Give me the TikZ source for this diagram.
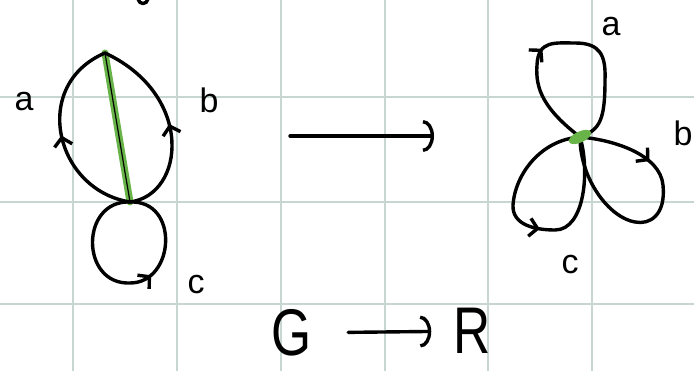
\documentclass[tikz,border=0pt]{standalone}
\usepackage{fontspec}
\setmainfont{Liberation Sans}
\usetikzlibrary{arrows.meta, decorations.markings, shapes.geometric, positioning}
\definecolor{GridGrey}{RGB}{200,214,210}
\definecolor{MarkerGreen}{RGB}{104,180,72}

\begin{document}
\begin{tikzpicture}[x=1pt, y=-1pt, line cap=round, line join=round]
    \tikzset{
        gridline/.style={GridGrey, line width=1.3pt},
        edge/.style={black, line width=3.4pt},
        greenedge/.style={MarkerGreen, line width=7pt},
        midarrow/.style={postaction={decorate}, decoration={markings,
            mark=at position #1 with {\arrow{Straight Barb[length=8pt, width=18pt]}}}},
        vlabel/.style={font=\fontsize{34}{36}\selectfont, inner sep=0pt},
        bigletter/.style={font=\fontsize{66}{70}\selectfont, inner sep=0pt, xscale=0.78},
        mapsto/.style={black, line width=3.4pt, -{Arc Barb[length=11pt, width=32pt]}}
    }
    \useasboundingbox (0,0) rectangle (694,371);
    % grid paper
    \foreach \gx in {73,177,281,385,488,592}
        \draw[gridline] (\gx,0) -- (\gx,371);
    \foreach \gy in {97,202,304}
        \draw[gridline] (0,\gy) -- (694,\gy);
    \draw[edge] (138,-1) .. controls (139,5) and (147,5) .. (148,-1);

    % graph G
    \coordinate (ltop) at (105,53);
    \coordinate (lbot) at (130,202);
    \draw[greenedge] (ltop) -- (lbot);
    \draw[black, line width=1.2pt] (ltop) -- (lbot);
    \draw[edge, midarrow=0.5] (lbot) .. controls (55,190) and (30,85) .. (ltop);
    \draw[edge, midarrow=0.5] (lbot) .. controls (185,195) and (195,95) .. (ltop);
    \draw[edge, midarrow=0.6] (lbot) .. controls (80,200) and (80,285) .. (130,283)
        .. controls (175,283) and (180,200) .. (lbot);
    \node[vlabel] (la) at (24,102) {a};
    \node[vlabel] (lb) at (209,100) {b};
    \node[vlabel] (lc) at (196,285) {c};

    % quotient map
    \coordinate (mapfrom) at (290,136);
    \coordinate (mapto) at (434,136);
    \draw[mapsto] (mapfrom) -- (mapto);

    % rose R
    \coordinate (v) at (580,137);
    \draw[edge, midarrow=0.4] (v) .. controls (545,110) and (535,90) .. (537,65)
        .. controls (538,40) and (555,43) .. (575,43)
        .. controls (600,43) and (606,55) .. (605,80)
        .. controls (605,120) and (600,130) .. (v);
    \draw[edge, midarrow=0.28] (v) .. controls (615,140) and (660,155) .. (663,185)
        .. controls (666,215) and (650,225) .. (635,222)
        .. controls (610,218) and (580,180) .. (v);
    \draw[edge, midarrow=0.54] (v) .. controls (540,140) and (515,175) .. (513,205)
        .. controls (512,225) and (535,230) .. (555,230)
        .. controls (585,230) and (590,170) .. (v);
    \node[ellipse, fill=MarkerGreen, minimum width=24pt, minimum height=11pt,
        inner sep=0pt, rotate=25] (vblob) at (v) {};
    \node[vlabel] (ra) at (611,27) {a};
    \node[vlabel] (rb) at (683,133) {b};
    \node[vlabel] (rc) at (570,265) {c};

    % caption
    \node[bigletter] (G) at (292,333) {G};
    \node[bigletter] (R) at (472,331) {R};
    \draw[mapsto, shorten <=36pt, shorten >=22pt] (G) -- (R);
\end{tikzpicture}
\end{document}
